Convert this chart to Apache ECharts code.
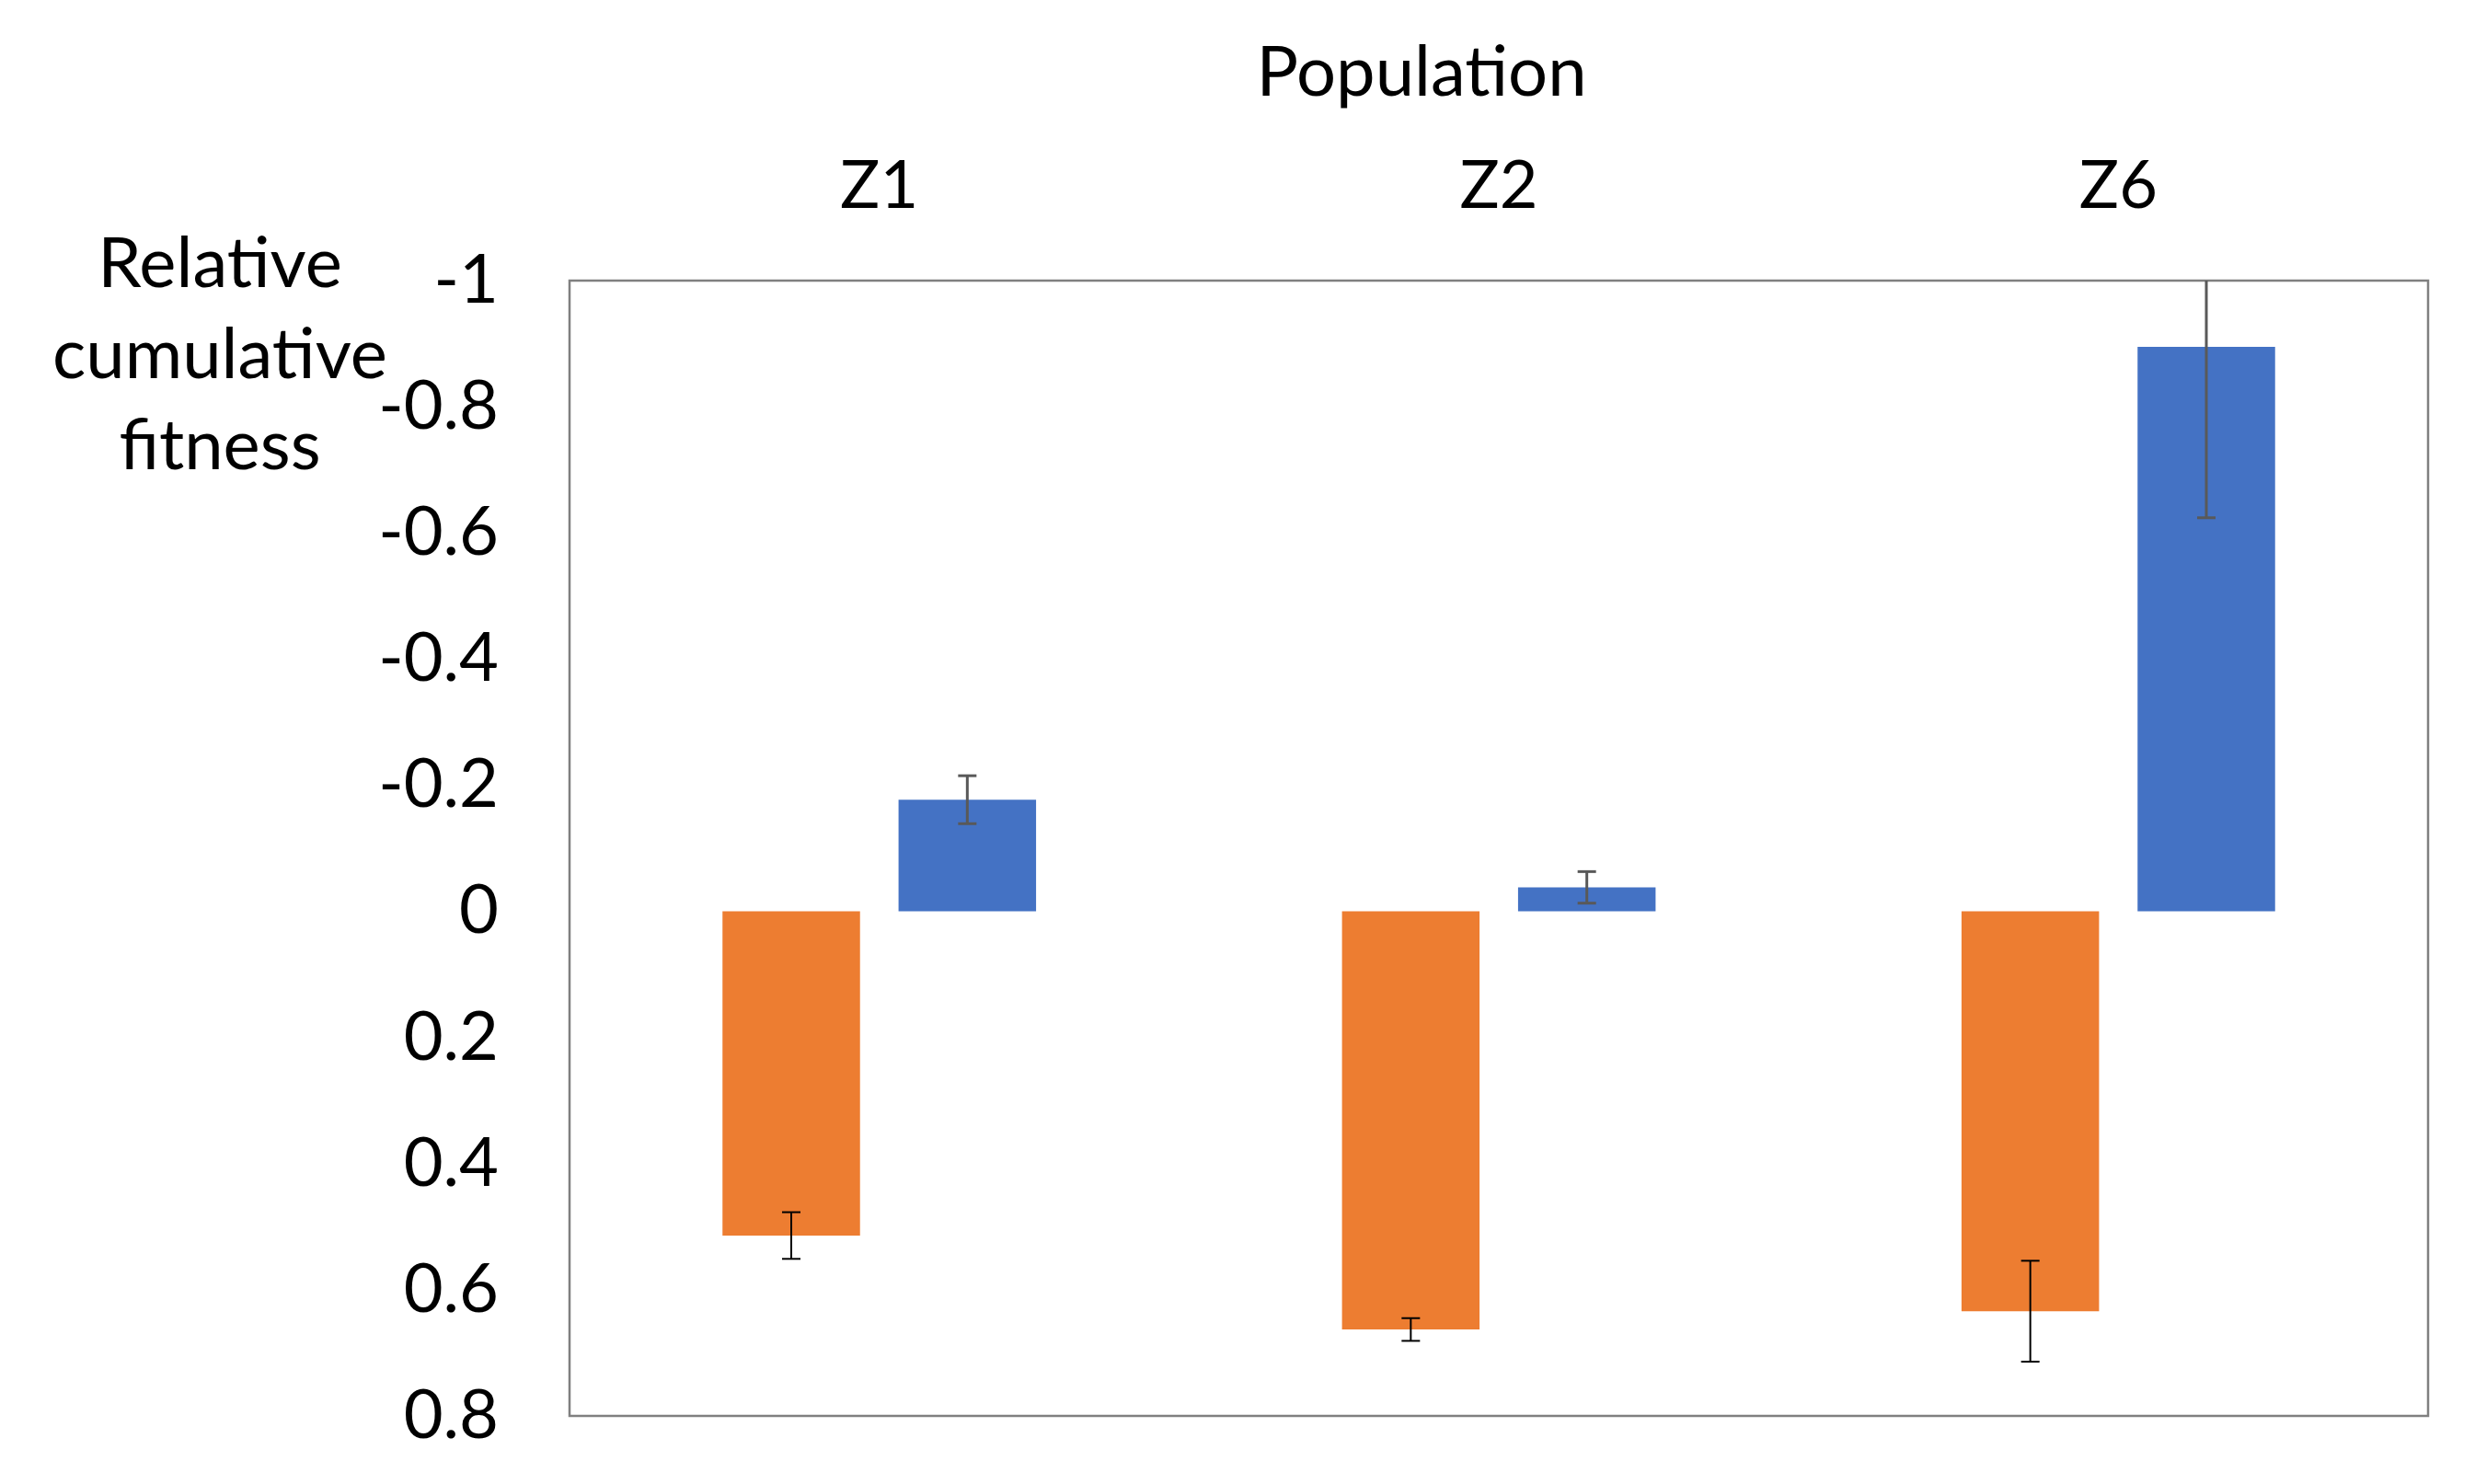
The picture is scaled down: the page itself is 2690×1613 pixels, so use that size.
<!DOCTYPE html>
<html>
<head>
<meta charset="utf-8">
<script src="https://cdn.jsdelivr.net/npm/echarts@6/dist/echarts.min.js"></script>
<style>html,body{margin:0;padding:0;background:#fff;}#c{width:2690px;height:1613px;}</style>
</head>
<body>
<div id="c"></div>
<script>
const categories = ['Z1', 'Z2', 'Z6'];
const orangeValues = [0.514, 0.663, 0.634];
const orangeErrors = [0.037, 0.018, 0.08];
const blueValues = [-0.177, -0.038, -0.895];
const blueErrors = [0.038, 0.025, 0.271];
const xAxisTitle = 'Population';
const yAxisTitle = 'Relative\ncumulative\nfitness';

const FONT = 'Lato, "Open Sans", sans-serif';
const BAR_W = 0.222;
const GAP = 0.28;
const OFFSET = (BAR_W + BAR_W * GAP) / 2;

function errRender(offset, color, lw) {
  return function (params, api) {
    const idx = api.value(0), v = api.value(1), e = api.value(2);
    const band = api.size([1, 0])[0];
    const p = api.coord([idx, v]);
    const x = p[0] + offset * band;
    const y1 = api.coord([idx, v - e])[1];
    const y2 = api.coord([idx, v + e])[1];
    const cap = 10;
    const style = { stroke: color, lineWidth: lw };
    return {
      type: 'group',
      children: [
        { type: 'line', shape: { x1: x, y1: y1, x2: x, y2: y2 }, style },
        { type: 'line', shape: { x1: x - cap, y1: y1, x2: x + cap, y2: y1 }, style },
        { type: 'line', shape: { x1: x - cap, y1: y2, x2: x + cap, y2: y2 }, style }
      ]
    };
  };
}

const chart = echarts.init(document.getElementById('c'));
chart.setOption({
  backgroundColor: '#fff',
  animation: false,
  title: [
    { text: xAxisTitle, left: 1540, top: 36, textAlign: 'center',
      textStyle: { fontFamily: FONT, fontSize: 76, fontWeight: 'normal', color: '#000' } },
    { text: yAxisTitle, left: 234, top: 233, textAlign: 'center',
      textStyle: { fontFamily: FONT, fontSize: 76, fontWeight: 'normal', color: '#000', lineHeight: 99, align: 'center' } }
  ],
  grid: { left: 619, right: 51, top: 305, bottom: 74, show: true, borderColor: '#808080', borderWidth: 2.5, containLabel: false },
  xAxis: {
    type: 'category', data: categories, position: 'top',
    axisLine: { show: false }, axisTick: { show: false }, splitLine: { show: false },
    axisLabel: { fontFamily: FONT, fontSize: 72, color: '#000', margin: 66 }
  },
  yAxis: {
    type: 'value', inverse: true, min: -1, max: 0.8, interval: 0.2,
    axisLine: { show: false }, axisTick: { show: false }, splitLine: { show: false },
    axisLabel: { fontFamily: FONT, fontSize: 74, color: '#000', margin: 77 }
  },
  series: [
    { type: 'bar', data: orangeValues, barWidth: (BAR_W * 100) + '%', barGap: (GAP * 100) + '%',
      itemStyle: { color: '#ED7D31' }, z: 2 },
    { type: 'bar', data: blueValues, barWidth: (BAR_W * 100) + '%',
      itemStyle: { color: '#4472C4' }, z: 2 },
    { type: 'custom', clip: true, z: 5,
      data: orangeValues.map((v, i) => [i, v, orangeErrors[i]]),
      renderItem: errRender(-OFFSET, '#000000', 2) },
    { type: 'custom', clip: true, z: 5,
      data: blueValues.map((v, i) => [i, v, blueErrors[i]]),
      renderItem: errRender(OFFSET, '#595959', 3) }
  ]
});
</script>
</body>
</html>
